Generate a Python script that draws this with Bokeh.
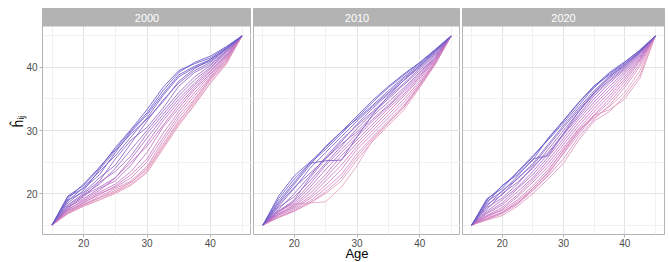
from bokeh.plotting import figure
from bokeh.layouts import row
from bokeh.models import FixedTicker, BoxAnnotation, Label, Range1d, Grid, ColumnDataSource
from bokeh.embed import file_html
from bokeh.resources import INLINE

# ---------------- data ----------------
ages = [15, 17.5, 20, 22.5, 25, 27.5, 30, 32.5, 35, 37.5, 40, 42.5, 45]
years = ["2000", "2010", "2020"]
x_ticks = [20, 30, 40]
x_minor = [15, 25, 35, 45]
y_ticks = [20, 30, 40]
y_minor = [15, 25, 35, 45]

h_2000 = [
    [15, 19.6, 21.3, 24.0, 27.3, 30.2, 33.3, 36.8, 39.5, 40.6, 41.5, 43.2, 45],
    [15, 19.2, 21.5, 24.2, 27.0, 30.0, 32.8, 36.3, 39.2, 40.8, 41.8, 43.3, 45],
    [15, 19.5, 20.8, 23.0, 26.5, 29.8, 32.5, 35.8, 38.8, 40.2, 41.2, 43.0, 45],
    [15, 18.8, 21.0, 23.5, 26.0, 29.0, 32.0, 35.5, 38.5, 40.0, 41.0, 42.9, 45],
    [15, 18.5, 20.5, 23.8, 26.8, 29.5, 31.8, 34.5, 37.8, 39.8, 41.3, 43.0, 45],
    [15, 19.0, 20.2, 22.5, 24.5, 28.0, 31.5, 34.8, 37.5, 39.5, 40.8, 42.8, 45],
    [15, 18.2, 20.0, 22.0, 25.5, 28.5, 30.5, 33.5, 37.0, 39.2, 40.5, 42.6, 45],
    [15, 18.0, 19.8, 21.5, 24.0, 27.0, 30.0, 33.0, 36.0, 38.5, 40.3, 42.5, 45],
    [15, 17.8, 19.5, 21.8, 23.5, 26.0, 29.5, 32.5, 35.5, 38.0, 40.0, 42.4, 45],
    [15, 17.6, 19.7, 21.0, 22.5, 25.5, 28.8, 32.0, 35.0, 37.5, 39.8, 42.2, 45],
    [15, 17.8, 19.2, 20.8, 22.0, 24.5, 28.0, 31.5, 34.5, 37.2, 39.5, 42.0, 45],
    [15, 17.4, 19.0, 20.5, 22.5, 25.0, 27.5, 30.8, 34.0, 36.8, 39.3, 41.8, 45],
    [15, 17.5, 18.8, 20.2, 21.5, 23.5, 26.5, 30.5, 33.5, 36.5, 39.0, 41.7, 45],
    [15, 17.2, 18.6, 19.8, 21.2, 23.0, 25.5, 29.5, 33.0, 36.0, 38.8, 41.5, 45],
    [15, 17.0, 18.5, 20.0, 21.0, 22.5, 25.0, 28.8, 32.5, 35.5, 38.5, 41.3, 45],
    [15, 17.3, 18.3, 19.5, 20.8, 22.0, 24.3, 28.3, 32.0, 35.0, 38.2, 41.0, 45],
    [15, 16.9, 18.2, 19.3, 20.5, 21.8, 24.0, 27.8, 31.5, 34.5, 38.0, 40.8, 45],
    [15, 16.8, 18.0, 19.0, 20.2, 21.5, 23.5, 27.3, 31.0, 34.2, 37.6, 40.6, 45],
    [15, 16.8, 18.0, 19.0, 20.0, 21.3, 23.3, 27.0, 30.8, 34.0, 37.5, 40.5, 45],
    [15, 17.0, 18.2, 19.3, 20.3, 21.8, 23.8, 27.5, 31.3, 34.8, 38.3, 41.2, 45],
]
tone_2000 = [1.0, 0.95, 0.92, 0.9, 0.85, 0.8, 0.75, 0.7, 0.65, 0.6,
             0.55, 0.5, 0.45, 0.4, 0.35, 0.3, 0.2, 0.12, 0.05, 0.0]

h_2010 = [
    [15, 19.6, 22.8, 25.0, 27.3, 29.8, 32.3, 34.8, 37.0, 39.0, 40.8, 42.9, 45],
    [15, 19.2, 22.3, 24.8, 27.0, 29.5, 32.0, 34.5, 36.8, 38.8, 40.7, 42.8, 45],
    [15, 18.5, 21.5, 24.5, 27.5, 29.8, 31.8, 34.0, 36.3, 38.5, 40.5, 42.7, 45],
    [15, 18.8, 21.8, 24.8, 25.2, 25.3, 29.0, 32.5, 35.5, 38.0, 40.3, 42.6, 45],
    [15, 18.0, 20.8, 24.0, 26.5, 29.0, 31.5, 33.8, 36.0, 38.3, 40.2, 42.5, 45],
    [15, 18.3, 21.0, 23.2, 25.5, 28.2, 31.0, 33.5, 35.8, 38.0, 40.0, 42.4, 45],
    [15, 17.5, 20.0, 22.8, 25.8, 28.5, 30.8, 33.0, 35.3, 37.5, 39.8, 42.2, 45],
    [15, 17.8, 19.5, 22.0, 24.8, 27.5, 30.3, 32.8, 35.0, 37.3, 39.5, 42.0, 45],
    [15, 17.2, 19.0, 22.5, 25.5, 27.8, 29.8, 32.3, 34.5, 36.8, 39.2, 41.8, 45],
    [15, 17.0, 18.8, 21.5, 24.5, 27.0, 29.5, 31.8, 34.0, 36.5, 39.0, 41.6, 45],
    [15, 17.3, 18.5, 21.0, 23.8, 26.5, 29.0, 31.5, 33.8, 36.2, 38.7, 41.5, 45],
    [15, 16.8, 18.2, 20.5, 23.0, 26.0, 28.5, 31.0, 33.5, 35.8, 38.5, 41.3, 45],
    [15, 16.6, 18.0, 20.0, 22.5, 25.3, 28.0, 30.5, 33.0, 35.5, 38.2, 41.2, 45],
    [15, 16.8, 17.8, 19.5, 22.0, 24.5, 27.5, 30.0, 32.5, 35.0, 37.8, 41.0, 45],
    [15, 16.5, 17.6, 19.2, 21.3, 23.8, 27.0, 29.5, 32.0, 34.5, 37.5, 40.8, 45],
    [15, 16.3, 17.4, 18.8, 20.8, 23.0, 26.3, 29.0, 31.5, 34.0, 37.2, 40.7, 45],
    [15, 16.2, 17.2, 18.5, 20.3, 22.5, 25.8, 28.7, 31.2, 33.7, 37.0, 40.6, 45],
    [15, 16.2, 17.2, 18.5, 20.0, 22.0, 25.3, 28.3, 30.8, 33.3, 36.8, 40.5, 45],
    [15, 17.2, 18.3, 18.5, 18.7, 21.0, 24.4, 28.5, 31.2, 33.8, 37.3, 41.0, 45],
]
tone_2010 = [1.0, 0.95, 0.9, 0.88, 0.85, 0.8, 0.75, 0.7, 0.65, 0.6,
             0.55, 0.5, 0.45, 0.4, 0.35, 0.3, 0.2, 0.1, 0.05]

h_2020 = [
    [15, 19.0, 21.2, 23.3, 25.8, 28.7, 31.5, 34.4, 37.0, 39.2, 40.9, 42.7, 45],
    [15, 19.2, 20.8, 23.5, 26.0, 28.5, 31.2, 34.0, 36.8, 39.0, 40.8, 42.8, 45],
    [15, 18.5, 21.3, 23.0, 25.3, 28.8, 31.6, 34.5, 37.1, 38.8, 40.6, 42.6, 45],
    [15, 18.8, 20.3, 22.8, 25.5, 26.0, 29.5, 33.0, 36.0, 38.5, 40.5, 42.5, 45],
    [15, 18.0, 20.5, 22.3, 24.8, 27.8, 30.8, 33.6, 36.3, 38.6, 40.3, 42.5, 45],
    [15, 18.3, 19.8, 22.5, 24.5, 27.5, 30.5, 33.3, 36.0, 38.3, 40.2, 42.4, 45],
    [15, 17.5, 20.0, 21.8, 24.0, 27.0, 30.0, 33.0, 35.8, 38.0, 40.0, 42.3, 45],
    [15, 17.8, 19.3, 21.5, 24.3, 26.5, 29.5, 32.5, 35.5, 37.8, 39.8, 42.2, 45],
    [15, 17.2, 19.0, 21.0, 23.5, 26.3, 29.3, 32.2, 35.0, 37.5, 39.6, 42.0, 45],
    [15, 17.0, 18.5, 20.8, 23.0, 25.8, 28.8, 31.8, 34.5, 37.0, 39.3, 41.8, 45],
    [15, 16.8, 18.2, 20.3, 22.5, 25.3, 28.3, 31.3, 34.0, 36.5, 39.0, 41.6, 45],
    [15, 16.5, 17.8, 19.8, 22.2, 24.8, 27.8, 30.8, 33.5, 36.0, 38.6, 41.4, 45],
    [15, 16.3, 17.5, 19.5, 21.8, 24.3, 27.3, 30.3, 33.0, 35.5, 38.2, 41.2, 45],
    [15, 16.5, 17.3, 19.0, 21.2, 23.8, 26.8, 29.8, 32.5, 35.0, 37.8, 41.0, 45],
    [15, 16.0, 17.0, 18.5, 20.8, 23.3, 26.3, 29.5, 32.3, 34.5, 37.3, 40.6, 45],
    [15, 15.9, 16.8, 18.3, 20.5, 22.8, 25.5, 29.0, 31.8, 34.0, 36.8, 40.2, 45],
    [15, 15.8, 16.5, 18.0, 20.0, 22.3, 24.8, 28.5, 31.5, 33.0, 35.5, 38.8, 45],
    [15, 16.0, 17.0, 18.5, 20.5, 23.0, 26.5, 30.0, 32.4, 33.3, 35.0, 38.3, 45],
    [15, 16.2, 17.0, 18.8, 20.8, 23.5, 27.0, 30.2, 32.0, 33.8, 36.0, 39.5, 45],
]
tone_2020 = [1.0, 0.95, 0.9, 0.85, 0.82, 0.78, 0.72, 0.68, 0.62, 0.58,
             0.52, 0.48, 0.42, 0.38, 0.32, 0.25, 0.15, 0.08, 0.1]

panels = [("2000", h_2000, tone_2000), ("2010", h_2010, tone_2010), ("2020", h_2020, tone_2020)]

# ---------------- style ----------------
FONT = "Liberation Sans"
STOPS = [(0.0, (236, 166, 190)), (0.5, (194, 112, 196)), (1.0, (98, 88, 202))]


def tone_color(t):
    for (t0, c0), (t1, c1) in zip(STOPS[:-1], STOPS[1:]):
        if t <= t1:
            f = (t - t0) / (t1 - t0)
            return "#%02x%02x%02x" % tuple(round(a + (b - a) * f) for a, b in zip(c0, c1))
    return "#%02x%02x%02x" % STOPS[-1][1]


X0, X1 = 13.5, 46.5
Y0, Y1 = 13.5, 46.5
PANEL_H = 208
STRIP_H = 18
FRAME_H = PANEL_H + STRIP_H
YTOP = Y0 + (Y1 - Y0) * FRAME_H / PANEL_H

frame_widths = [209, 207, 202]
left_borders = [42, 2, 2]
right_borders = [0, 0, 2]

figs = []
for i, (yr, curves, tones) in enumerate(panels):
    p = figure(frame_width=frame_widths[i], frame_height=FRAME_H,
               x_range=Range1d(X0, X1), y_range=Range1d(Y0, YTOP),
               output_backend="svg", toolbar_location=None,
               y_axis_location="left" if i == 0 else None,
               min_border_left=left_borders[i], min_border_right=right_borders[i],
               min_border_top=8, min_border_bottom=0)
    p.background_fill_color = "white"
    p.border_fill_color = "white"
    p.outline_line_color = "#B3B3B3"
    p.outline_line_width = 1

    # grids
    for g in list(p.grid):
        g.visible = False
    xt = FixedTicker(ticks=x_ticks, minor_ticks=x_minor)
    yt = FixedTicker(ticks=y_ticks, minor_ticks=y_minor)
    for dim, tk in ((0, xt), (1, yt)):
        g = Grid(dimension=dim, ticker=tk, grid_line_color="#E3E3E3", grid_line_width=1,
                 minor_grid_line_color="#F1F1F1", minor_grid_line_width=1)
        p.add_layout(g)

    # x axis
    ax = p.xaxis[0]
    ax.ticker = xt
    ax.axis_line_color = None
    ax.major_tick_line_color = "#B3B3B3"
    ax.major_tick_in = 0
    ax.major_tick_out = 3
    ax.minor_tick_line_color = None
    ax.major_label_text_font = FONT
    ax.major_label_text_font_size = "10px"
    ax.major_label_text_color = "#4D4D4D"
    ax.major_label_standoff = 0
    ax.axis_label = "Age" if i == 1 else None
    ax.axis_label_text_font = FONT
    ax.axis_label_text_font_size = "13px"
    ax.axis_label_text_font_style = "normal"
    ax.axis_label_text_color = "black"
    ax.axis_label_standoff = -4

    if i == 0:
        ay = p.yaxis[0]
        ay.ticker = yt
        ay.axis_line_color = None
        ay.major_tick_line_color = "#B3B3B3"
        ay.major_tick_in = 0
        ay.major_tick_out = 3
        ay.minor_tick_line_color = None
        ay.major_label_text_font = FONT
        ay.major_label_text_font_size = "10px"
        ay.major_label_text_color = "#4D4D4D"
        ay.major_label_standoff = 1
        ay.axis_label = "ĥᵢⱼ"
        ay.axis_label_text_font = FONT
        ay.axis_label_text_font_size = "14px"
        ay.axis_label_text_font_style = "normal"
        ay.axis_label_text_color = "black"
        ay.axis_label_standoff = -3

    order = sorted(range(len(curves)), key=lambda k: tones[k])
    src = ColumnDataSource(dict(
        xs=[ages for _ in order],
        ys=[curves[k] for k in order],
        c=[tone_color(tones[k]) for k in order],
    ))
    p.multi_line("xs", "ys", source=src, line_color="c", line_width=1, line_alpha=0.85)

    # facet strip
    p.add_layout(BoxAnnotation(bottom=Y1, fill_color="#B3B3B3", fill_alpha=1,
                               line_color=None, level="overlay"))
    p.add_layout(Label(x=(X0 + X1) / 2, y=(Y1 + YTOP) / 2, text=yr,
                       text_align="center", text_baseline="middle",
                       text_color="white", text_font=FONT, text_font_size="11px",
                       level="overlay"))
    figs.append(p)

layout = row(*figs, spacing=0)
open("out.html", "w").write(file_html(layout, INLINE))
